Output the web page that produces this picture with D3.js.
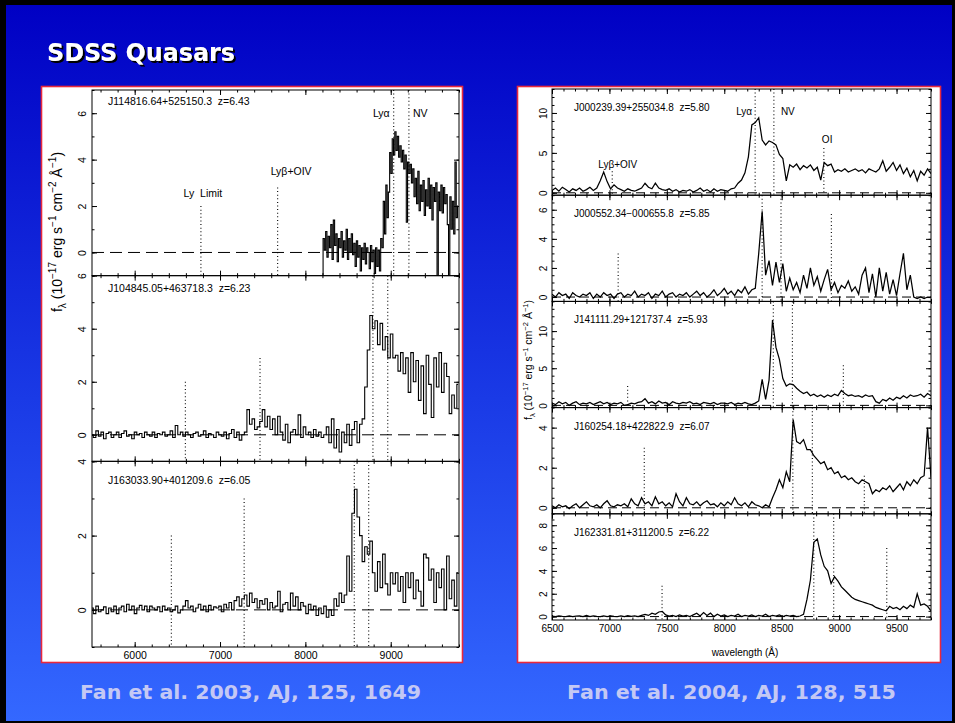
<!DOCTYPE html>
<html>
<head>
<meta charset="utf-8">
<script src="https://cdn.jsdelivr.net/npm/d3@7"></script>
<style>
  body { margin: 0; background: #000; }
  svg { display: block; }
</style>
</head>
<body>
<div id="chart"></div>
<script>
// ---------- data: Fan et al. 2003 (left) ----------
const leftNames = ["J114816.64+525150.3", "J104845.05+463718.3", "J163033.90+401209.6"];
const leftZ = [6.43, 6.23, 6.05];
const leftStart = [8200, 5500, 5500];
const leftStep = [15, 30, 30];
const leftFluxA = [
  -1.0, 0.6, 0.1, 0.9, -0.2, 0.7, 0.2, 1.2, -0.3, 1.4,
  0.3, 0.8, -0.4, 0.6, 0.2, 0.9, -0.2, 0.5, 0.1, 1.0,
  -0.3, 0.6, 0.0, 0.8, -0.1, 0.4, -0.6, 0.5, -0.2, 0.3,
  -0.8, 0.2, -0.3, 0.4, -0.5, 0.2, 0.0, -0.7, 0.3, -0.4,
  0.1, -0.9, 0.2, -0.6, 0.1, -0.8, 0.6, 0.2, 2.2, 0.8,
  2.9, 1.5, 2.6, 4.3, 3.4, 4.9, 4.2, 5.2, 4.4, 5.0,
  4.1, 4.6, 3.9, 4.4, 3.6, 4.2, 1.3, 3.9, 3.4, 3.8,
  3.0, 3.6, 2.4, 3.2, 2.1, 3.5, 1.8, 2.9, 2.2, 3.1,
  1.6, 2.7, 2.0, 3.2, 1.9, 2.9, 1.4, 2.8, 2.2, 3.0,
  -1.0, 2.6, 1.8, 2.9, 1.7, 2.8, 2.1, 2.5, 1.2, -1.0,
  2.4, 1.0, 2.2, 0.8, 3.9, 1.5, 2.0
];
const leftFluxB = [
  0.0, -0.1, 0.15, -0.05, 0.1, -0.15, 0.05, 0.1, -0.1, 0.0,
  0.1, -0.1, 0.05, 0.15, -0.05, 0.0, -0.15, 0.1, 0.0, 0.05,
  -0.1, 0.1, 0.0, -0.05, 0.1, -0.1, 0.05, 0.0, 0.1, -0.05,
  0.0, 0.15, -0.1, 0.35, 0.0, 0.1, -0.05, 0.1, 0.0, -0.1,
  0.05, 0.1, -0.05, 0.0, 0.15, -0.1, 0.05, 0.0, -0.1, 0.1,
  0.0, -0.05, 0.1, -0.15, 0.05, 0.2, -0.1, 0.1, -0.2, 0.0,
  0.1, 0.95, 0.4, 0.6, 0.2, 0.3, 0.5, 0.95, 0.3, 0.7,
  0.2, 0.6, 0.0, 0.7, 0.1, -0.2, 0.4, -0.3, 0.1, 0.2,
  0.0, 0.75, -0.1, 0.3, 0.0, 0.1, -0.1, 0.2, -0.05, 0.1,
  -0.1, 0.0, 0.3, -0.3, 0.6, -0.5, 0.2, -0.65, 0.1, -0.3,
  0.4, -0.4, 0.2, 0.5, -0.3, 0.4, 0.6, 1.8, 3.2, 4.5,
  4.0, 4.3, 3.4, 4.2, 3.2, 3.7, 2.9, 3.8, 2.9, 3.0,
  2.4, 3.1, 2.3, 2.9, 1.6, 3.1, 2.0, 2.8, 1.3, 2.6,
  0.8, 3.0, 1.9, 0.65, 2.9, 1.8, 3.1, 1.6, 2.7, 2.2,
  0.8, 1.5, 1.0, 1.9
];
const leftFluxC = [
  0.05, -0.1, 0.1, -0.05, 0.0, 0.08, -0.1, 0.05, -0.05, 0.1,
  -0.1, 0.05, 0.1, -0.05, 0.15, 0.0, 0.1, -0.1, 0.05, 0.12,
  0.0, 0.1, -0.05, 0.1, 0.05, 0.0, 0.08, -0.05, 0.1, 0.0,
  0.05, -0.05, 0.0, 0.1, -0.08, 0.0, 0.1, 0.25, 0.05, 0.1,
  -0.05, 0.05, 0.15, 0.0, 0.1, -0.05, 0.12, 0.0, 0.08, 0.05,
  0.1, -0.05, 0.15, 0.05, 0.2, 0.0, 0.25, 0.35, 0.1, 0.3,
  0.4, 0.1, 0.45, 0.2, 0.3, 0.05, 0.25, 0.15, 0.3, 0.0,
  0.2, 0.05, 0.1, 0.5, -0.05, 0.15, 0.2, 0.0, 0.45, 0.1,
  0.35, 0.0, 0.2, 0.1, -0.1, 0.15, 0.0, 0.1, -0.15, 0.05,
  -0.1, 0.1, -0.2, 0.0, -0.15, 0.3, 0.1, 0.45, 0.2, 0.4,
  1.45, 0.5, 2.6, 3.25, 2.5, 2.0, 1.3, 1.7, 1.5, 1.85,
  1.0, 0.5, 1.3, 0.6, 1.5, 0.7, 0.4, 1.0, 0.7, 1.0,
  0.5, 0.9, 0.2, 1.0, 0.6, 1.0, 0.3, 0.8, 0.5, 0.1,
  1.5, 1.4, 0.8, 1.1, 0.2, 1.0, 0.6, 1.1, 0.0, 1.45,
  0.3, 0.8, 0.1, 1.0
];
const leftYDomains = [[-1, 7], [-1, 6], [-1, 4]];
const leftLineRest = [912, 1033, 1216, 1240];
const leftLineNames = ["Ly\u00a0\u00a0Limit", "Ly\u03b2+OIV", "Ly\u03b1", "NV"];
const leftLineTop = [[2.0, 2.8, null, null], [2.0, 2.9, null, null], [2.0, 3.0, null, null]];
const leftXTicks = [6000, 7000, 8000, 9000];

// ---------- data: Fan et al. 2004 (right) ----------
const rightNames = ["J000239.39+255034.8", "J000552.34\u2212000655.8", "J141111.29+121737.4",
  "J160254.18+422822.9", "J162331.81+311200.5"];
const rightZ = [5.80, 5.85, 5.93, 6.07, 6.22];
const rightStart = 6500;
const rightStep = 30;
const rightFluxA = [
  0.3, 0.6, 0.2, 0.7, 0.4, 0.1, 0.5, 0.3, 0.6, 0.2,
  0.4, 0.7, 0.3, 0.6, 1.5, 2.6, 1.4, 0.5, 1.0, 0.6,
  0.4, 0.2, 0.5, 0.3, 0.2, 0.4, 0.6, 1.2, 0.7, 0.5,
  1.2, 0.6, 0.4, 0.3, 0.5, 0.2, 0.4, 0.1, 0.3, 0.2,
  0.4, 0.1, 0.3, 0.6, 0.2, 0.4, 0.1, 0.5, 0.2, 0.4,
  0.3, 0.2, 0.5, 0.6, 1.2, 1.6, 2.5, 4.5, 8.5, 8.8,
  9.4, 6.6, 6.0, 6.5, 6.3, 6.0, 4.8, 4.3, 1.5, 3.5,
  3.2, 3.6, 2.9, 3.4, 3.1, 3.5, 2.8, 3.2, 1.6, 3.8,
  3.4, 3.6, 2.6, 2.9, 2.7, 3.0, 2.6, 2.8, 3.0, 2.7,
  2.9, 2.5, 3.0, 2.8, 2.6, 3.0, 4.0, 2.7, 3.2, 3.8,
  2.8, 3.5, 2.4, 3.1, 2.0, 2.8, 1.5, 2.7, 2.2, 3.0,
  2.4
];
const rightFluxB = [
  0.2, 0.0, 0.3, 0.1, 0.2, -0.1, 0.3, 0.1, 0.0, 0.2,
  0.1, 0.3, -0.1, 0.2, 0.0, 0.3, 0.1, 0.2, -0.1, 0.2,
  0.3, 0.0, 0.2, 0.1, 0.4, 0.0, 0.2, 0.1, 0.3, -0.1,
  0.2, 0.1, 0.4, 0.0, 0.2, 0.3, 0.0, 0.2, 0.1, 0.3,
  0.0, 0.2, 0.4, 0.1, 0.3, 0.0, 0.2, 0.5, 0.1, 0.3,
  0.6, 0.2, 0.4, 0.1, 0.5, 0.3, 0.7, 0.2, 0.5, 0.6,
  3.0, 5.9, 1.5, 2.5, 0.8, 2.4, 1.0, 2.3, 0.4, 1.3,
  0.5, 1.0, 0.3, 1.5, 0.6, 2.0, 0.8, 1.4, 0.4, 1.2,
  1.9, 0.5, 1.0, 0.3, 0.8, 0.6, 1.1, 0.4, 0.7, 0.2,
  1.5, 2.0, 0.3, 1.6, 0.0, 2.0, 0.4, 1.7, 0.2, 1.2,
  0.1, 1.6, 3.0, 0.5, 1.5, 0.0, -0.1, 0.0, -0.1, 0.0,
  0.0
];
const rightFluxC = [
  0.3, 0.1, 0.5, 0.2, 0.4, 0.0, 0.3, 0.5, 0.1, 0.3,
  0.2, 0.4, 0.1, 0.3, 0.5, 0.2, 0.4, 0.1, 0.3, 0.2,
  0.4, 0.0, 0.1, 0.3, 0.2, 0.4, 0.5, 0.9, 0.3, 0.5,
  0.2, 0.6, 0.3, 0.4, 0.1, 0.5, 0.3, 0.2, 0.4, 0.3,
  0.5, 0.2, 0.3, 0.1, 0.4, 0.3, 0.2, 0.4, 0.1, 0.3,
  0.3, 0.2, 0.4, 0.1, 0.3, 0.2, 0.4, 0.2, 0.1, 0.3,
  0.6, 3.5, 0.8, 3.4, 11.5, 7.8, 6.2, 3.6, 2.6, 2.9,
  2.8, 2.3, 1.9, 1.6, 1.8, 1.3, 1.5, 1.2, 1.4, 1.1,
  1.4, 1.2, 1.5, 1.3, 2.0, 1.6, 1.3, 1.4, 1.2, 1.3,
  1.1, 1.4, 1.2, 1.3, 0.5, 0.3, 0.8, 0.6, 1.0, 0.7,
  1.1, 0.9, 1.3, 1.0, 1.4, 1.2, 1.3, 1.5, 1.1, 1.6,
  1.3
];
const rightFluxD = [
  0.1, 0.0, 0.15, 0.05, 0.1, -0.05, 0.1, 0.2, 0.0, 0.15,
  0.3, 0.1, 0.05, 0.15, 0.0, 0.2, 0.35, 0.1, 0.05, 0.15,
  0.1, 0.2, 0.05, 0.45, 0.2, 0.1, 0.5, 0.2, 0.3, 0.1,
  0.55, 0.2, 0.3, 0.1, 0.25, 0.05, 0.7, 0.3, 0.1, 0.5,
  0.2, 0.15, 0.3, 0.1, 0.25, 0.35, 0.15, 0.2, 0.05, 0.25,
  0.1, 0.3, 0.15, 0.5, 0.2, 0.1, 0.25, 0.05, 0.3, 0.15,
  0.1, 0.0, 0.15, 0.05, 0.5, 0.9, 1.4, 1.0, 1.8, 1.3,
  4.4, 3.3, 3.2, 3.4, 2.9, 2.9, 2.6, 2.4, 2.2, 2.3,
  1.9, 2.0, 1.7, 1.8, 1.5, 1.6, 1.4, 1.5, 1.3, 1.2,
  1.4, 1.3, 1.2, 0.7, 0.9, 0.8, 1.0, 0.9, 1.1, 0.8,
  1.0, 1.2, 0.9, 1.3, 1.1, 1.4, 1.2, 1.5, 1.6, 4.0,
  1.5
];
const rightFluxE = [
  0.05, 0.0, 0.05, 0.02, 0.0, 0.05, 0.0, 0.03, 0.05, 0.0,
  0.1, 0.0, 0.05, 0.02, 0.0, 0.06, 0.0, 0.05, 0.02, 0.0,
  0.05, 0.0, 0.08, 0.02, 0.05, 0.0, 0.1, 0.2, 0.1, 0.3,
  0.2, 0.4, 0.45, 0.15, 0.05, 0.1, 0.0, 0.15, 0.05, 0.1,
  0.0, 0.15, 0.3, 0.05, 0.35, 0.1, 0.3, 0.0, 0.2, 0.05,
  0.15, 0.0, 0.1, 0.05, 0.2, 0.0, 0.1, 0.05, 0.15, 0.0,
  0.1, 0.05, 0.2, 0.0, 0.1, 0.05, 0.15, 0.0, 0.1, 0.05,
  0.1, 0.0, 0.05, 0.2, 1.5, 3.2, 6.5, 6.8, 5.4, 4.4,
  4.0, 2.9, 3.5, 3.1, 2.6, 2.3, 2.0, 1.7, 1.5, 1.4,
  1.3, 1.2, 1.1, 1.0, 0.8, 0.7, 0.6, 0.5, 0.9, 0.7,
  0.8, 0.6, 0.9, 0.7, 1.0, 0.8, 2.0, 1.0, 1.1, 0.9,
  0.5
];
const rightYDomains = [[-0.3, 13], [-0.3, 7], [-0.3, 14], [-0.3, 5], [-0.3, 9]];
const rightYMajor = [5, 2, 5, 2, 2];
const rightYMinor = [1, 0.5, 1, 0.5, 0.5];
const rightLineRest = [1033, 1216, 1240, 1304];
const rightLineNames = ["Ly\u03b2+OIV", "Ly\u03b1", "NV", "OI"];
const rightLineTop = [[2.7, null, null, 5.6], [3.0, null, null, 5.7], [2.6, null, null, 5.4],
  [3.0, null, null, 1.6], [2.7, null, null, 6.0]];
const rightXTicks = [6500, 7000, 7500, 8000, 8500, 9000, 9500];

// ---------- layout ----------
const W = 955, H = 723;
const FONT = "'Liberation Sans', Arial, Helvetica, sans-serif";

const svg = d3.select("#chart").append("svg")
    .attr("width", W)
    .attr("height", H);

const defs = svg.append("defs");
const grad = defs.append("linearGradient")
    .attr("id", "bg").attr("x1", 0).attr("y1", 0).attr("x2", 0).attr("y2", 1);
grad.append("stop").attr("offset", "0%").attr("stop-color", "#0000c4");
grad.append("stop").attr("offset", "55%").attr("stop-color", "#1a3ae6");
grad.append("stop").attr("offset", "100%").attr("stop-color", "#3468ff");

const shadow = defs.append("filter").attr("id", "shadow")
    .attr("x", "-5%").attr("y", "-20%").attr("width", "115%").attr("height", "150%");
shadow.append("feDropShadow").attr("dx", 2).attr("dy", 2).attr("stdDeviation", 0.4)
    .attr("flood-color", "#000").attr("flood-opacity", 1);

svg.append("rect").attr("width", W).attr("height", H).attr("fill", "#000");
svg.append("rect").attr("x", 6).attr("y", 5).attr("width", W - 9).attr("height", H - 7)
    .attr("fill", "url(#bg)");

// title
svg.append("text").attr("x", 47).attr("y", 61)
    .attr("font-family", "'DejaVu Sans', Verdana, sans-serif").attr("font-weight", "bold")
    .attr("font-size", 25).attr("textLength", 188).attr("lengthAdjust", "spacingAndGlyphs")
    .attr("fill", "#fff").attr("filter", "url(#shadow)").text("SDSS Quasars");

// white figure boxes with red edge
svg.append("rect").attr("x", 41.5).attr("y", 86.5).attr("width", 421).attr("height", 576)
    .attr("fill", "#fff").attr("stroke", "#e8283c").attr("stroke-width", 1.6);
svg.append("rect").attr("x", 517.5).attr("y", 86.5).attr("width", 423).attr("height", 576)
    .attr("fill", "#fff").attr("stroke", "#e8283c").attr("stroke-width", 1.6);

// captions
svg.append("text").attr("x", 80).attr("y", 699)
    .attr("font-family", "'Comic Sans MS', 'DejaVu Sans', sans-serif").attr("font-weight", "bold")
    .attr("font-size", 19).attr("textLength", 341).attr("lengthAdjust", "spacingAndGlyphs")
    .attr("fill", "#c4c8f4").text("Fan et al. 2003, AJ, 125, 1649");
svg.append("text").attr("x", 567).attr("y", 699)
    .attr("font-family", "'Comic Sans MS', 'DejaVu Sans', sans-serif").attr("font-weight", "bold")
    .attr("font-size", 19).attr("textLength", 329).attr("lengthAdjust", "spacingAndGlyphs")
    .attr("fill", "#c4c8f4").text("Fan et al. 2004, AJ, 128, 515");

function toSpectrum(flux, start, step) {
    return flux.map((f, i) => ({w: start + i * step, f: f}));
}

function rangeTicks(domain, step) {
    const lo = Math.ceil(domain[0] / step - 1e-9) * step;
    return d3.range(lo, domain[1] + 1e-9, step).map(v => +v.toFixed(3));
}

// draws a vertical stack of spectra sharing one wavelength axis
function drawStack(o) {
    const x = d3.scaleLinear().domain(o.xDomain).range([o.x0, o.x1]);
    const ph = (o.y1 - o.y0) / o.panels.length;
    const root = svg.append("g");

    o.panels.forEach((p, k) => {
        const top = o.y0 + k * ph, bot = top + ph;
        const y = d3.scaleLinear().domain(p.yDomain).range([bot, top]);
        const g = root.append("g");
        const clipId = o.id + "clip" + k;
        defs.append("clipPath").attr("id", clipId)
            .append("rect").attr("x", o.x0).attr("y", top).attr("width", o.x1 - o.x0).attr("height", ph);

        // zero level
        g.append("line")
            .attr("x1", o.x0).attr("x2", o.x1).attr("y1", y(0)).attr("y2", y(0))
            .attr("stroke", "#000").attr("stroke-width", 1).attr("stroke-dasharray", o.dash);

        // emission-line markers
        p.lines.forEach((wl, j) => {
            const yt = p.lineTop[j] == null ? top : y(p.lineTop[j]);
            g.append("line")
                .attr("x1", x(wl)).attr("x2", x(wl)).attr("y1", yt).attr("y2", bot)
                .attr("stroke", "#000").attr("stroke-width", 1.1).attr("stroke-dasharray", "1,2.6");
        });

        // spectrum
        const line = d3.line().x(d => x(d.w)).y(d => y(d.f)).curve(o.curve);
        g.append("path")
            .datum(p.spectrum)
            .attr("clip-path", "url(#" + clipId + ")")
            .attr("fill", "none").attr("stroke", "#000").attr("stroke-width", o.lw)
            .attr("stroke-linejoin", "miter")
            .attr("d", line);

        // axes with inward ticks on all sides
        const xMinor = rangeTicks(o.xDomain, o.xMinorStep);
        const yMaj = rangeTicks(p.yDomain, p.yMajor);
        const yMin = rangeTicks(p.yDomain, p.yMinor);
        const last = k === o.panels.length - 1;

        const axes = [
            [d3.axisBottom(x).tickValues(o.xTicks).tickSize(-5).tickPadding(5)
                .tickFormat(last ? d3.format("d") : ""), 0, bot],
            [d3.axisBottom(x).tickValues(xMinor).tickSize(-2.5).tickFormat(""), 0, bot],
            [d3.axisTop(x).tickValues(o.xTicks).tickSize(-5).tickFormat(""), 0, top],
            [d3.axisTop(x).tickValues(xMinor).tickSize(-2.5).tickFormat(""), 0, top],
            [d3.axisRight(y).tickValues(yMaj).tickSize(-5).tickFormat(""), o.x1, 0],
            [d3.axisRight(y).tickValues(yMin).tickSize(-2.5).tickFormat(""), o.x1, 0],
            [d3.axisLeft(y).tickValues(yMin).tickSize(-2.5).tickFormat(""), o.x0, 0]
        ];
        axes.forEach(a => {
            const ag = g.append("g").attr("transform", "translate(" + a[1] + "," + a[2] + ")").call(a[0]);
            ag.select(".domain").remove();
            ag.selectAll("line").attr("stroke-width", 1);
            ag.selectAll("text").attr("font-family", FONT).attr("font-size", o.fs).attr("fill", "#000");
        });

        const ly = g.append("g").attr("transform", "translate(" + o.x0 + ",0)")
            .call(d3.axisLeft(y).tickValues(yMaj).tickSize(-5).tickFormat(d3.format("d")));
        ly.select(".domain").remove();
        ly.selectAll("text")
            .attr("font-family", FONT).attr("font-size", o.fs).attr("fill", "#000")
            .attr("x", 0).attr("dy", null).attr("y", 0)
            .attr("text-anchor", "middle")
            .attr("transform", "translate(" + (-o.ylabOff) + ",0) rotate(-90)");

        // frame
        g.append("rect").attr("x", o.x0).attr("y", top).attr("width", o.x1 - o.x0).attr("height", ph)
            .attr("fill", "none").attr("stroke", "#000").attr("stroke-width", 1);

        // object name
        g.append("text").attr("x", o.x0 + o.nameDx).attr("y", top + p.nameDy)
            .attr("font-family", FONT).attr("font-size", o.fs)
            .text(p.name + "\u00a0\u00a0z=" + p.z.toFixed(2));

        // line names on first panel
        if (k === 0) {
            o.lineLabels.forEach((lab, j) => {
                g.append("text")
                    .attr("x", x(p.lines[j]) + lab.dx).attr("y", top + lab.dy)
                    .attr("text-anchor", lab.anchor)
                    .attr("font-family", FONT).attr("font-size", o.fs)
                    .text(o.lineNames[j]);
            });
        }
    });
    return x;
}

// rotated y-axis title
function yTitle(cx, cy, fs) {
    const t = svg.append("text")
        .attr("transform", "translate(" + cx + "," + cy + ") rotate(-90)")
        .attr("text-anchor", "middle")
        .attr("font-family", FONT).attr("font-size", fs);
    const sub = fs * 0.72;
    t.append("tspan").text("f");
    t.append("tspan").attr("font-size", sub).attr("dy", fs * 0.3).text("\u03bb");
    t.append("tspan").attr("dy", -fs * 0.3).text("\u00a0(10");
    t.append("tspan").attr("font-size", sub).attr("dy", -fs * 0.42).text("\u221217");
    t.append("tspan").attr("dy", fs * 0.42).text("\u00a0erg s");
    t.append("tspan").attr("font-size", sub).attr("dy", -fs * 0.42).text("\u22121");
    t.append("tspan").attr("dy", fs * 0.42).text("\u00a0cm");
    t.append("tspan").attr("font-size", sub).attr("dy", -fs * 0.42).text("\u22122");
    t.append("tspan").attr("dy", fs * 0.42).text("\u00a0\u00c5");
    t.append("tspan").attr("font-size", sub).attr("dy", -fs * 0.42).text("\u22121");
    t.append("tspan").attr("dy", fs * 0.42).text(")");
}

// ---------- left figure ----------
const leftFlux = [leftFluxA, leftFluxB, leftFluxC];
const leftNameDy = [14.5, 16, 23];
drawStack({
    id: "L",
    x0: 92, x1: 459, y0: 90, y1: 647,
    xDomain: [5500, 9800], xTicks: leftXTicks, xMinorStep: 200,
    curve: d3.curveStep, lw: 1.1, dash: "12,6", fs: 10.5, ylabOff: 6.5, nameDx: 16,
    lineNames: leftLineNames,
    lineLabels: [
        {anchor: "middle", dx: 2, dy: 107},
        {anchor: "start", dx: -7, dy: 85},
        {anchor: "end", dx: -4, dy: 27},
        {anchor: "start", dx: 4, dy: 27}
    ],
    panels: leftNames.map((n, k) => ({
        name: n, z: leftZ[k], yDomain: leftYDomains[k], yMajor: 2, yMinor: 1,
        spectrum: toSpectrum(leftFlux[k], leftStart[k], leftStep[k]),
        lines: leftLineRest.map(r => r * (1 + leftZ[k])),
        lineTop: leftLineTop[k],
        nameDy: leftNameDy[k]
    }))
});
yTitle(62, 232, 14);

// ---------- right figure ----------
const rightFlux = [rightFluxA, rightFluxB, rightFluxC, rightFluxD, rightFluxE];
drawStack({
    id: "R",
    x0: 552, x1: 931, y0: 89, y1: 620,
    xDomain: [6500, 9800], xTicks: rightXTicks, xMinorStep: 100,
    curve: d3.curveLinear, lw: 1.25, dash: "9,5", fs: 10, ylabOff: 5, nameDx: 22,
    lineNames: rightLineNames,
    lineLabels: [
        {anchor: "start", dx: -14, dy: 78.5},
        {anchor: "end", dx: -3, dy: 25.5},
        {anchor: "start", dx: 7, dy: 25.5},
        {anchor: "start", dx: -2, dy: 53.5}
    ],
    panels: rightNames.map((n, k) => ({
        name: n, z: rightZ[k], yDomain: rightYDomains[k], yMajor: rightYMajor[k], yMinor: rightYMinor[k],
        spectrum: toSpectrum(rightFlux[k], rightStart, rightStep),
        lines: rightLineRest.map(r => r * (1 + rightZ[k])),
        lineTop: rightLineTop[k],
        nameDy: 22
    }))
});
yTitle(532, 360, 10.5);

svg.append("text").attr("x", 745).attr("y", 656)
    .attr("text-anchor", "middle").attr("font-family", FONT).attr("font-size", 10)
    .text("wavelength (\u00c5)");
</script>
</body>
</html>
